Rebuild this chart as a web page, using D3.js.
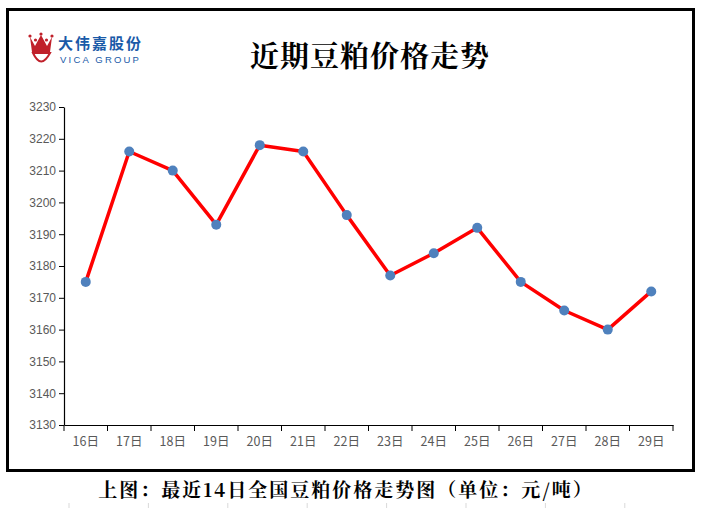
<!DOCTYPE html>
<html>
<head>
<meta charset="utf-8">
<script src="https://cdn.jsdelivr.net/npm/d3@7"></script>
<style>
  body { margin: 0; background: #fff; }
  svg { display: block; }
</style>
</head>
<body>
<div id="chart"></div>
<script>
(function () {

  var w = 702;
  var h = 508;

  // data
  var days = ["16日", "17日", "18日", "19日", "20日", "21日", "22日", "23日", "24日", "25日", "26日", "27日", "28日", "29日"];
  var prices = [3175, 3216, 3210, 3193, 3218, 3216, 3196, 3177, 3184, 3192, 3175, 3166, 3160, 3172];
  var yTicks = [3130, 3140, 3150, 3160, 3170, 3180, 3190, 3200, 3210, 3220, 3230];

  var margin = { top: 107, left: 64, right: 29, bottom: 83 };

  var svg = d3.select("#chart")
    .append("svg")
    .attr("width", w)
    .attr("height", h);

  // frame
  svg.append("rect")
    .attr("x", 7.5).attr("y", 9.5)
    .attr("width", 686).attr("height", 461)
    .attr("fill", "none")
    .attr("stroke", "#000")
    .attr("stroke-width", 3);

  var x = d3.scaleBand()
    .domain(days)
    .range([margin.left, w - margin.right]);

  var y = d3.scaleLinear()
    .domain([3130, 3230])
    .range([h - margin.bottom, margin.top]);

  // y axis
  var yAxis = svg.append("g")
    .attr("transform", "translate(" + margin.left + ",0)")
    .call(d3.axisLeft(y).tickValues(yTicks).tickSize(5).tickSizeOuter(0).tickFormat(d3.format("d")));
  yAxis.select(".domain").attr("stroke", "#000").attr("stroke-width", 1.2);
  yAxis.selectAll(".tick line").attr("stroke", "#000");
  yAxis.selectAll("text")
    .attr("x", -8)
    .attr("fill", "#595959")
    .style("font-family", "'Liberation Sans', Arial, sans-serif")
    .style("font-size", "12px");

  // x axis with ticks on band edges
  var xAxis = svg.append("g")
    .attr("transform", "translate(0," + (h - margin.bottom) + ")")
    .call(d3.axisBottom(x).tickSize(0).tickSizeOuter(0));
  xAxis.select(".domain").attr("stroke", "#000").attr("stroke-width", 1.2);
  xAxis.selectAll("text")
    .attr("y", 12)
    .attr("fill", "#595959")
    .style("font-family", "'Noto Sans CJK SC', sans-serif")
    .style("font-size", "12.5px");

  var edges = days.map(function (d) { return x(d); }).concat([x(days[days.length - 1]) + x.bandwidth()]);
  xAxis.selectAll(".edge")
    .data(edges)
    .enter()
    .append("line")
    .attr("class", "edge")
    .attr("x1", function (d) { return d; })
    .attr("x2", function (d) { return d; })
    .attr("y1", 0)
    .attr("y2", 6)
    .attr("stroke", "#000");

  // line
  var line = d3.line()
    .x(function (d, i) { return x(days[i]) + x.bandwidth() / 2; })
    .y(function (d) { return y(d); });

  svg.append("path")
    .datum(prices)
    .attr("d", line)
    .attr("fill", "none")
    .attr("stroke", "#ff0000")
    .attr("stroke-width", 3.5)
    .attr("stroke-linejoin", "round");

  svg.selectAll(".dot")
    .data(prices)
    .enter()
    .append("circle")
    .attr("class", "dot")
    .attr("cx", function (d, i) { return x(days[i]) + x.bandwidth() / 2; })
    .attr("cy", function (d) { return y(d); })
    .attr("r", 5)
    .attr("fill", "#4f81bd");

  // title
  svg.append("text")
    .attr("x", 370)
    .attr("y", 67)
    .attr("text-anchor", "middle")
    .style("font-family", "'Noto Serif CJK SC', 'Noto Sans CJK SC', serif")
    .style("font-size", "29px")
    .style("letter-spacing", "1px")
    .style("font-weight", "bold")
    .attr("fill", "#000")
    .text("近期豆粕价格走势");

  // logo
  var logo = svg.append("g").attr("transform", "translate(27,32)");
  logo.append("path")
    .attr("d", "M3,5 L8,14 L14,3 L20,14 L25,5 L23,20 L5,20 Z")
    .attr("fill", "#c0202a");
  logo.selectAll(".jewel")
    .data([[3, 4], [14, 2], [25, 4], [8.5, 8], [19.5, 8]])
    .enter()
    .append("circle")
    .attr("cx", function (d) { return d[0]; })
    .attr("cy", function (d) { return d[1]; })
    .attr("r", 1.6)
    .attr("fill", "#c0202a");
  logo.append("path")
    .attr("d", "M6,21 Q14,38 23,21 Z")
    .attr("fill", "#fff")
    .attr("stroke", "#c0202a")
    .attr("stroke-width", 2);
  logo.append("text")
    .attr("x", 31).attr("y", 17)
    .style("font-family", "'Noto Sans CJK SC', sans-serif")
    .style("font-size", "15px")
    .style("letter-spacing", "2px")
    .style("font-weight", "bold")
    .attr("fill", "#1a5aa8")
    .text("大伟嘉股份");
  logo.append("text")
    .attr("x", 33).attr("y", 31)
    .style("font-family", "'Liberation Sans', Arial, sans-serif")
    .style("font-size", "9.5px")
    .style("letter-spacing", "2.2px")
    .attr("fill", "#1a5aa8")
    .text("VICA GROUP");

  // caption
  svg.append("text")
    .attr("x", 346)
    .attr("y", 497)
    .attr("text-anchor", "middle")
    .style("font-family", "'Noto Serif CJK SC', 'Noto Sans CJK SC', serif")
    .style("font-size", "19px")
    .style("letter-spacing", "2px")
    .style("font-weight", "bold")
    .attr("fill", "#000")
    .text("上图：最近14日全国豆粕价格走势图（单位：元/吨）");

  // faint table borders at the bottom
  svg.selectAll(".cell")
    .data(d3.range(8))
    .enter()
    .append("line")
    .attr("x1", function (i) { return 69 + i * 79.4; })
    .attr("x2", function (i) { return 69 + i * 79.4; })
    .attr("y1", 503).attr("y2", 508)
    .attr("stroke", "#d9d9d9");

})();
</script>
</body>
</html>
